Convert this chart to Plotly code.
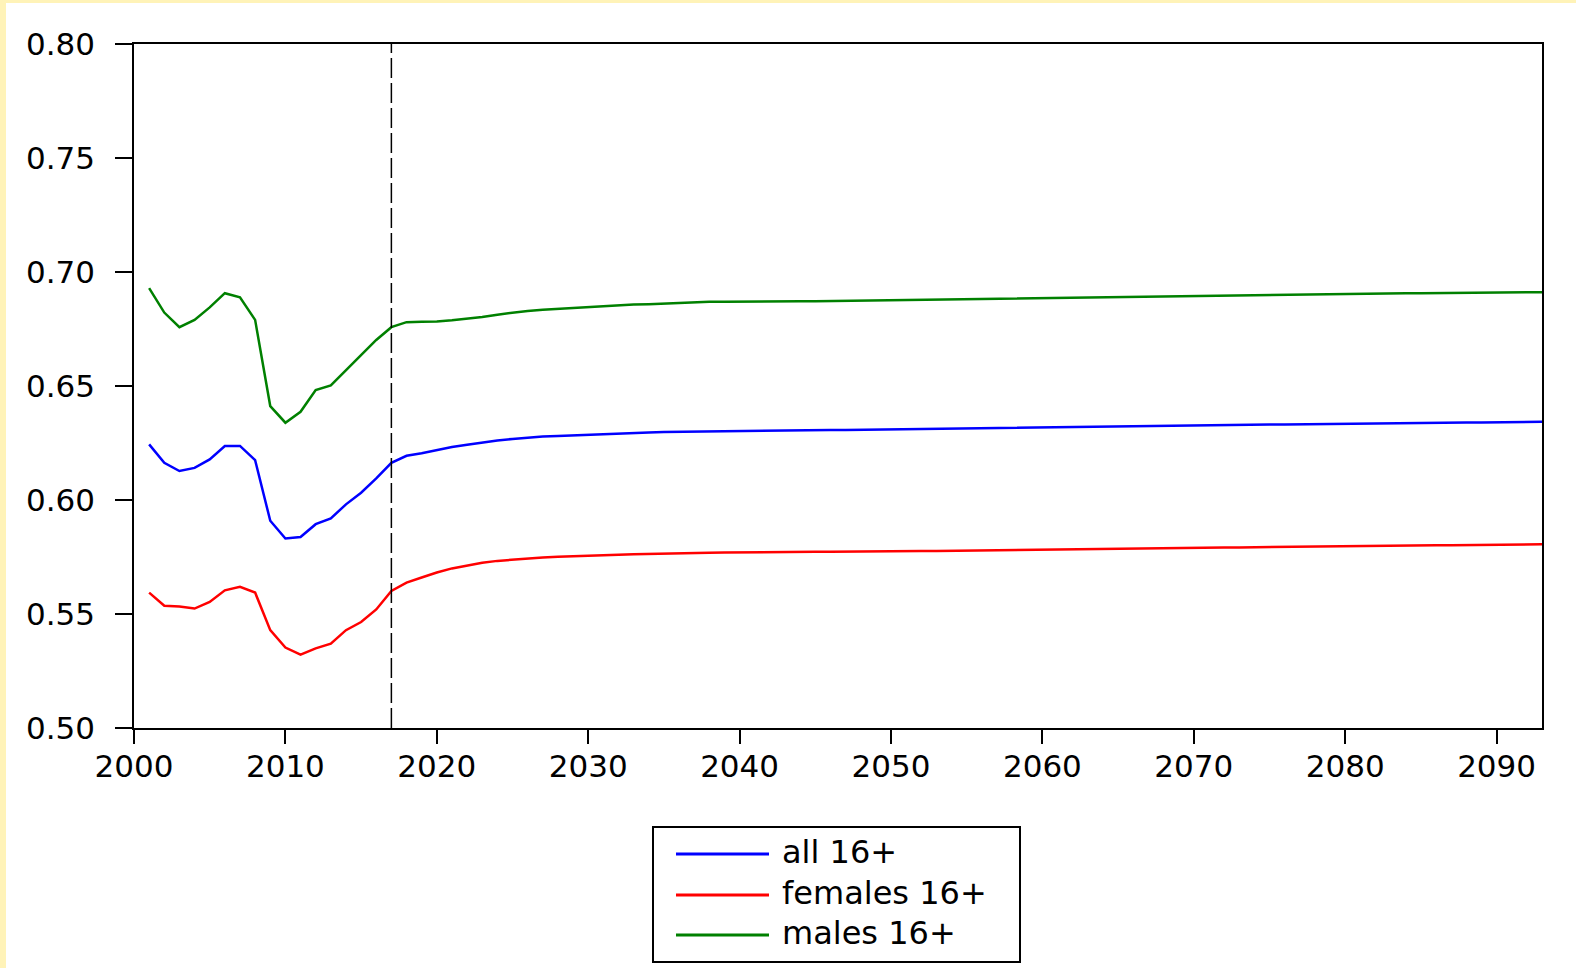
import plotly.graph_objects as go

years = list(range(2001, 2094))

all_16 = [
    0.6244, 0.6163, 0.6127, 0.6141, 0.6178, 0.6237, 0.6237, 0.6175, 0.5909, 0.5831,
    0.5838, 0.5894, 0.5919, 0.5981, 0.6032, 0.6095, 0.6163, 0.6194, 0.6205, 0.6220,
    0.6232, 0.6242, 0.6252, 0.6261, 0.6268, 0.6274, 0.6278, 0.6281, 0.6284, 0.6287,
    0.6290, 0.6292, 0.6294, 0.6296, 0.6298, 0.6299, 0.6300, 0.6302, 0.6303, 0.6304,
    0.6305, 0.6305, 0.6306, 0.6306, 0.6307, 0.6307, 0.6307, 0.6308, 0.6308, 0.6309,
    0.6310, 0.6311, 0.6312, 0.6313, 0.6314, 0.6315, 0.6316, 0.6317, 0.6318, 0.6319,
    0.6320, 0.6321, 0.6322, 0.6323, 0.6324, 0.6325, 0.6325, 0.6326, 0.6327, 0.6327,
    0.6328, 0.6329, 0.6329, 0.6330, 0.6331, 0.6331, 0.6332, 0.6333, 0.6334, 0.6334,
    0.6335, 0.6336, 0.6336, 0.6337, 0.6338, 0.6338, 0.6339, 0.6340, 0.6340, 0.6341,
    0.6342, 0.6342, 0.6343,
]

females_16 = [
    0.5594, 0.5536, 0.5533, 0.5524, 0.5553, 0.5604, 0.5619, 0.5594, 0.5429, 0.5353,
    0.5322, 0.5349, 0.5370, 0.5429, 0.5465, 0.5520, 0.5601, 0.5638, 0.5660, 0.5682,
    0.5700, 0.5714, 0.5725, 0.5733, 0.5739, 0.5744, 0.5748, 0.5751, 0.5754, 0.5756,
    0.5758, 0.5760, 0.5762, 0.5764, 0.5765, 0.5767, 0.5768, 0.5769, 0.5770, 0.5771,
    0.5772, 0.5772, 0.5773, 0.5773, 0.5773, 0.5773, 0.5774, 0.5774, 0.5774, 0.5775,
    0.5775, 0.5776, 0.5776, 0.5777, 0.5777, 0.5778, 0.5779, 0.5780, 0.5781, 0.5782,
    0.5783, 0.5784, 0.5785, 0.5786, 0.5787, 0.5788, 0.5788, 0.5789, 0.5790, 0.5790,
    0.5791, 0.5792, 0.5792, 0.5793, 0.5794, 0.5794, 0.5795, 0.5796, 0.5797, 0.5797,
    0.5798, 0.5799, 0.5799, 0.5800, 0.5801, 0.5802, 0.5802, 0.5803, 0.5804, 0.5804,
    0.5805, 0.5805, 0.5806,
]

males_16 = [
    0.6929, 0.6822, 0.6758, 0.6790, 0.6845, 0.6907, 0.6889, 0.6790, 0.6412, 0.6339,
    0.6387, 0.6482, 0.6503, 0.6570, 0.6636, 0.6702, 0.6758, 0.6780, 0.6782, 0.6783,
    0.6788, 0.6795, 0.6803, 0.6813, 0.6822, 0.6829, 0.6834, 0.6838, 0.6843, 0.6848,
    0.6851, 0.6854, 0.6857, 0.6859, 0.6862, 0.6865, 0.6867, 0.6869, 0.6870, 0.6871,
    0.6872, 0.6872, 0.6872, 0.6872, 0.6872, 0.6873, 0.6873, 0.6874, 0.6875, 0.6876,
    0.6877, 0.6878, 0.6879, 0.6880, 0.6881, 0.6882, 0.6883, 0.6884, 0.6885, 0.6886,
    0.6887, 0.6888, 0.6889, 0.6890, 0.6891, 0.6892, 0.6893, 0.6894, 0.6895, 0.6896,
    0.6897, 0.6898, 0.6899, 0.6900, 0.6901, 0.6902, 0.6903, 0.6904, 0.6904, 0.6905,
    0.6905, 0.6906, 0.6906, 0.6907, 0.6907, 0.6908, 0.6908, 0.6909, 0.6909, 0.6910,
    0.6910, 0.6911, 0.6911,
]

series_names = ["all 16+", "females 16+", "males 16+"]
series_colors = ["#0000FF", "#FF0000", "#008000"]
series_values = [all_16, females_16, males_16]

forecast_start = 2017
x_tickvals = list(range(2000, 2091, 10))
y_tickvals = [0.50, 0.55, 0.60, 0.65, 0.70, 0.75, 0.80]

W, H = 1576, 968
ML, MR, MT, MB = 134, 34, 44, 240
PW, PH = W - ML - MR, H - MT - MB

def px_x(p):
    return (p - ML) / PW

def px_y(p):
    return (H - MB - p) / PH

FONT = "DejaVu Sans"

fig = go.Figure()
for name, color, vals in zip(series_names, series_colors, series_values):
    fig.add_trace(go.Scatter(x=years, y=vals, mode="lines", name=name,
                             line=dict(color=color, width=2.5), showlegend=False))

shapes = []
shapes.append(dict(type="line", xref="x", yref="paper", x0=forecast_start, x1=forecast_start,
                   y0=0, y1=1, line=dict(color="black", width=1.5, dash="20px,5px")))
shapes.append(dict(type="rect", xref="paper", yref="paper", x0=px_x(0), x1=px_x(6),
                   y0=px_y(H), y1=px_y(0), fillcolor="#FFF3B8", line=dict(width=0), layer="below"))
shapes.append(dict(type="rect", xref="paper", yref="paper", x0=px_x(0), x1=px_x(W),
                   y0=px_y(3), y1=px_y(0), fillcolor="#FFF3B8", line=dict(width=0), layer="below"))
shapes.append(dict(type="rect", xref="paper", yref="paper", x0=px_x(653), x1=px_x(1020),
                   y0=px_y(962), y1=px_y(827), line=dict(color="black", width=2), fillcolor="white"))
annotations = []
row_y = [854, 895, 935]
for name, color, ry in zip(series_names, series_colors, row_y):
    shapes.append(dict(type="line", xref="paper", yref="paper", x0=px_x(676), x1=px_x(769),
                       y0=px_y(ry), y1=px_y(ry), line=dict(color=color, width=3)))
    annotations.append(dict(xref="paper", yref="paper", x=px_x(780), y=px_y(ry - 2),
                            xanchor="left", yanchor="middle", text=name, showarrow=False,
                            font=dict(family=FONT, size=32, color="black")))

fig.update_layout(
    width=W, height=H, autosize=False,
    margin=dict(l=ML, r=MR, t=MT, b=MB, pad=0),
    paper_bgcolor="white", plot_bgcolor="white",
    font=dict(family=FONT, size=31, color="black"),
    shapes=shapes, annotations=annotations,
    showlegend=False,
)
fig.update_xaxes(range=[2000, 2093], tickmode="array", tickvals=x_tickvals,
                 ticks="outside", ticklen=14, tickwidth=1.5, tickcolor="black",
                 showline=True, linecolor="black", linewidth=1.5, mirror=True,
                 showgrid=False, zeroline=False, ticklabelstandoff=-4,
                 tickfont=dict(family=FONT, size=31, color="black"))
fig.update_yaxes(range=[0.50, 0.80], tickmode="array", tickvals=y_tickvals, tickformat=".2f",
                 ticks="outside", ticklen=17, tickwidth=1.5, tickcolor="black",
                 showline=True, linecolor="black", linewidth=1.5, mirror=True,
                 showgrid=False, zeroline=False, ticklabelstandoff=14,
                 tickfont=dict(family=FONT, size=31, color="black"))

fig.write_html("out.html", config={"displayModeBar": False},
               post_script="document.body.style.margin='0';document.body.style.padding='0';")
